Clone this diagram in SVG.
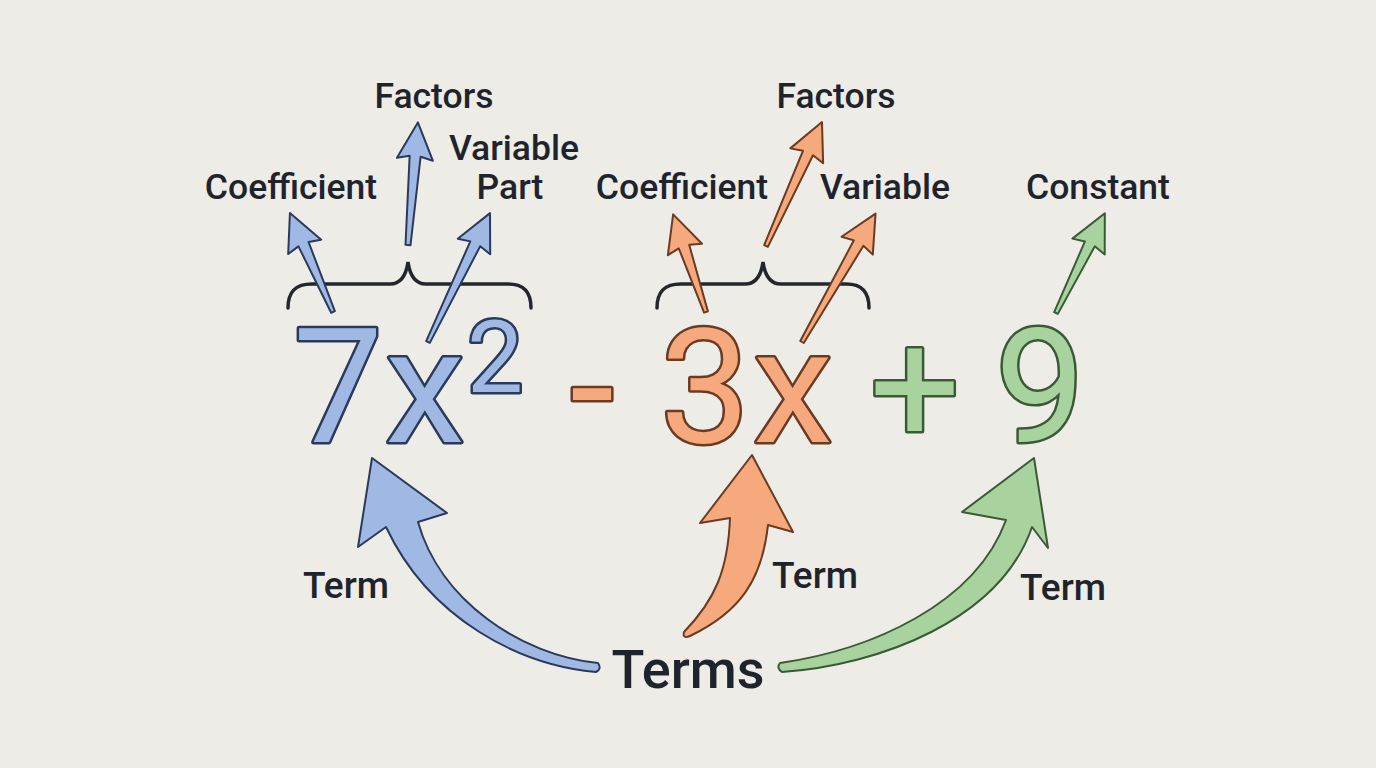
<svg xmlns="http://www.w3.org/2000/svg" width="1376" height="768" viewBox="0 0 1376 768">
<style>
.lbl{font-family:Roboto,"Liberation Sans",sans-serif;font-weight:500;font-size:35.5px;fill:#1f242c;text-anchor:middle}
.trm{font-size:37px}
.big{font-family:Roboto,"Liberation Sans",sans-serif;font-weight:400;font-size:160px;text-anchor:middle;stroke-width:5;stroke-linejoin:round;paint-order:stroke}
.b{fill:#9fb8e4;stroke:#2b3a5a}
.o{fill:#f5a97c;stroke:#6b3a22}
.g{fill:#a9d39e;stroke:#3a5a36}
.ar{stroke-width:2;stroke-linejoin:round}
.brace{fill:none;stroke:#23262c;stroke-width:3.5;stroke-linecap:round}
</style>
<rect width="1376" height="768" fill="#eeece7"/>
<g id="braces">
<path class="brace" d="M288,308 C288,292 295,284 312,284 L390,284 C400,284 406,276 408,262 C410,276 416,284 426,284 L508,284 C524,284 531,292 531,308"/>
<path class="brace" d="M657,308 C657,292 664,284 681,284 L745,284 C755,284 761,276 763,262 C765,276 771,284 781,284 L846,284 C862,284 869,292 869,308"/>
</g>
<g id="expression">
<text class="big b" x="338" y="442">7</text>
<text class="big b" x="425" y="442">x</text>
<text class="big b" x="495" y="392" style="font-size:100px">2</text>
<text class="big o" x="592" y="442">-</text>
<text class="big o" x="705" y="442">3</text>
<text class="big o" x="793" y="442">x</text>
<text class="big g" x="915" y="442">+</text>
<text class="big g" x="1040" y="442">9</text>
</g>
<g id="connectors">
<path class="ar b" transform="translate(333,312) rotate(-113.5)" d="M0,-2 L74,-5.5 L71,-18 L108,0 L71,18 L74,5.5 L0,2 Z"/>
<path class="ar b" transform="translate(408,245) rotate(-85.4)" d="M0,-2.5 L89,-5.5 L86,-18 L123,0 L86,18 L89,5.5 L0,2.5 Z"/>
<path class="ar b" transform="translate(428,342) rotate(-64.3)" d="M0,-2 L109,-5.5 L106,-18 L143,0 L106,18 L109,5.5 L0,2 Z"/>
<path class="ar o" transform="translate(706,312) rotate(-108.6)" d="M0,-2 L69,-5.5 L66,-18 L103,0 L66,18 L69,5.5 L0,2 Z"/>
<path class="ar o" transform="translate(766,246) rotate(-65.7)" d="M0,-2 L102,-5.5 L99,-18 L136,0 L99,18 L102,5.5 L0,2 Z"/>
<path class="ar o" transform="translate(802,342) rotate(-60.2)" d="M0,-2 L114,-5.5 L111,-18 L148,0 L111,18 L114,5.5 L0,2 Z"/>
<path class="ar g" transform="translate(1056,313) rotate(-63.9)" d="M0,-2 L77,-5.5 L74,-18 L111,0 L74,18 L77,5.5 L0,2 Z"/>
<path class="ar b" d="M372,458 L447,513 L418,522 C440,600 520,655 598,663 Q602,669 596,672 C520,665 430,620 386,527 L358,547 Z"/>
<path class="ar o" d="M752,455 L793,532 L768,525 C762,580 740,612 690,636 Q682,639 684,632 C715,600 728,570 730,518 L700,523 Z"/>
<path class="ar g" d="M1034,458 L1048,548 L1032,527 C1000,620 880,665 782,672 Q776,668 780,663 C870,650 975,605 1006,520 L962,512 Z"/>
</g>
<g id="labels">
<text class="lbl" x="434" y="108">Factors</text>
<text class="lbl" x="514" y="160">Variable</text>
<text class="lbl" x="510" y="199">Part</text>
<text class="lbl" x="291" y="199">Coefficient</text>
<text class="lbl" x="682" y="199">Coefficient</text>
<text class="lbl" x="836" y="108">Factors</text>
<text class="lbl" x="885" y="199">Variable</text>
<text class="lbl" x="1098" y="199">Constant</text>
<text class="lbl trm" x="346" y="598">Term</text>
<text class="lbl trm" x="815" y="588">Term</text>
<text class="lbl trm" x="1063" y="600">Term</text>
<text class="lbl" x="688" y="688" style="font-size:54px">Terms</text>
</g>
</svg>
